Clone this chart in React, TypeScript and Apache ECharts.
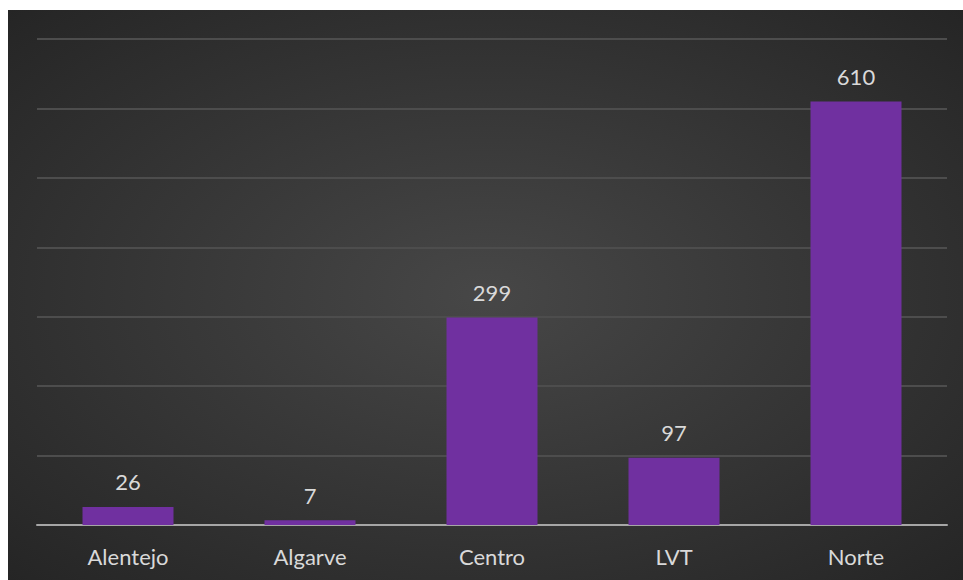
import React, { useEffect, useRef } from "react";
import * as echarts from "echarts";

const categories = ["Alentejo", "Algarve", "Centro", "LVT", "Norte"];
const values = [26, 7, 299, 97, 610];

export default function App() {
  const ref = useRef<HTMLDivElement>(null);
  useEffect(() => {
    if (!ref.current) return;
    const chart = echarts.init(ref.current, null, { renderer: "svg" });
    chart.setOption({
      animation: false,
      backgroundColor: {
        type: "radial",
        x: 0.5,
        y: 0.5,
        r: 0.75,
        colorStops: [
          { offset: 0, color: "#474747" },
          { offset: 1, color: "#232323" },
        ],
      },
      grid: { left: 29, right: 16, top: 29, bottom: 55, containLabel: false },
      xAxis: {
        type: "category",
        data: categories,
        axisLine: { lineStyle: { color: "#a6a6a6", width: 2 } },
        axisTick: { show: false },
        axisLabel: {
          color: "#d9d9d9",
          fontSize: 22,
          fontFamily: "Lato",
          margin: 20,
        },
      },
      yAxis: {
        type: "value",
        min: 0,
        max: 700,
        interval: 100,
        axisLabel: { show: false },
        axisLine: { show: false },
        axisTick: { show: false },
        splitLine: { lineStyle: { color: "#4d4d4d", width: 2 } },
      },
      series: [
        {
          type: "bar",
          data: values,
          barWidth: "50%",
          itemStyle: { color: "#7030a0" },
          label: {
            show: true,
            position: "top",
            distance: 14,
            color: "#d9d9d9",
            fontSize: 22,
            fontFamily: "Lato",
          },
        },
      ],
    });
    return () => chart.dispose();
  }, []);
  return (
    <div
      ref={ref}
      style={{ position: "absolute", left: 8, top: 10, width: 955, height: 570 }}
    />
  );
}
